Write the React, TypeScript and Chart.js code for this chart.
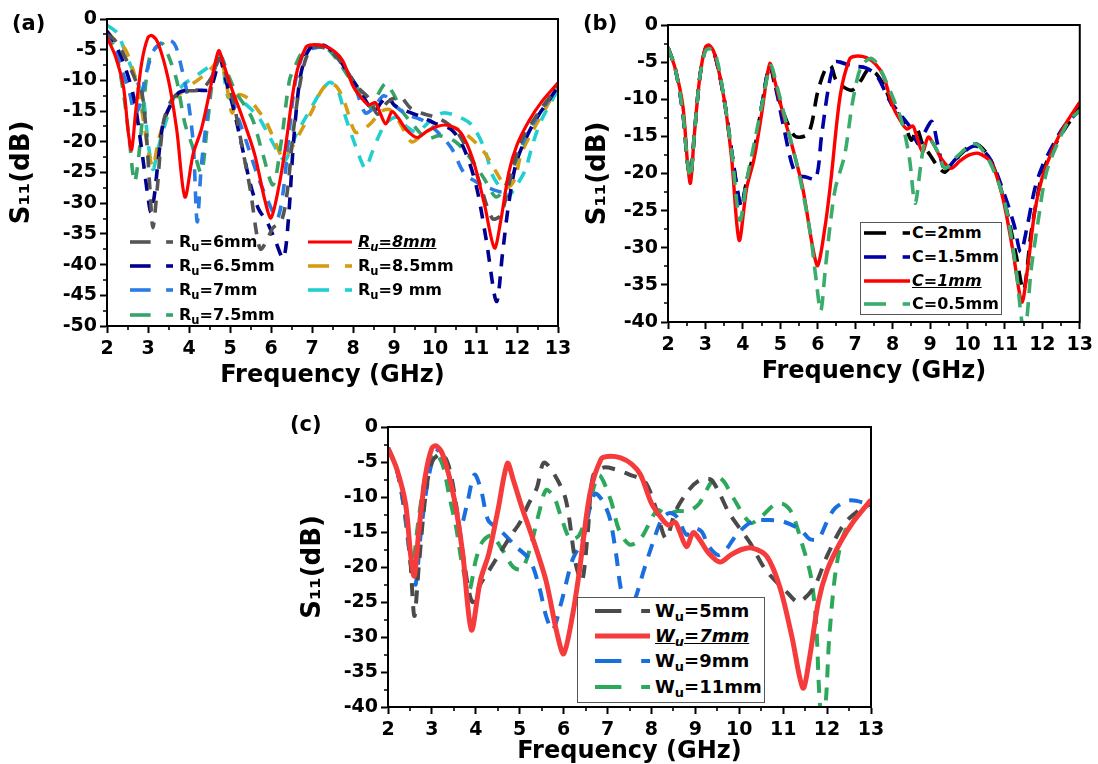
import React, { useEffect, useRef } from "react";
import { Chart, registerables } from "chart.js";
Chart.register(...registerables);

const FONT = '"DejaVu Sans", "Liberation Sans", Arial, sans-serif';

// ---------------- tick labels ----------------
const freqTicks = [2, 3, 4, 5, 6, 7, 8, 9, 10, 11, 12, 13];
const dbTicksA = [0, -5, -10, -15, -20, -25, -30, -35, -40, -45, -50];
const dbTicksBC = [0, -5, -10, -15, -20, -25, -30, -35, -40];

// ---------------- proposed design (red curve: Ru=8mm / C=1mm / Wu=7mm) ----------------
const refFreq = [2.0, 2.2, 2.4, 2.52, 2.6, 2.7, 2.85, 3.0, 3.1, 3.25, 3.5, 3.7, 3.9, 4.1, 4.3, 4.5, 4.72, 4.85, 5.05, 5.3, 5.6, 5.85, 6.0, 6.2, 6.35, 6.6, 6.85, 7.0, 7.3, 7.55, 7.75, 8.0, 8.2, 8.38, 8.54, 8.62, 8.8, 8.95, 9.1, 9.3, 9.56, 9.8, 10.05, 10.3, 10.63, 10.93, 11.2, 11.45, 11.6, 11.8, 12.0, 12.3, 12.6, 13.0];
const refS11 = [-3, -6, -11, -18.5, -21.3, -15, -7, -3, -2.7, -4, -10, -18, -29, -22, -18, -12, -5.2, -7.5, -11.5, -16, -22, -29.5, -32.4, -27, -21, -9.5, -4.6, -4.2, -4.4, -5.3, -6.8, -10.9, -12.8, -14, -13.6, -14.6, -17.1, -15.1, -16.1, -18, -19.3, -18.3, -17.5, -17.3, -18.5, -23, -30, -37.3, -33, -25, -20.5, -16.5, -13.5, -10.4];

// ---------------- panel (a): Ru sweep ----------------
const aFreq6 = [2.0, 2.2, 2.5, 2.7, 2.85, 2.95, 3.05, 3.12, 3.22, 3.37, 3.55, 3.75, 4.0, 4.3, 4.55, 4.75, 4.9, 5.1, 5.3, 5.5, 5.65, 5.75, 5.9, 6.05, 6.25, 6.4, 6.55, 6.75, 6.95, 7.2, 7.5, 7.8, 8.1, 8.4, 8.6, 8.85, 9.15, 9.4, 9.7, 10.0, 10.3, 10.6, 10.9, 11.15, 11.4, 11.6, 11.8, 12.1, 12.5, 13.0];
const aS11_6 = [-2.5, -3.5, -7, -10, -12, -18, -28, -34, -28, -17, -13.5, -12, -11.7, -11.5, -9.5, -6.5, -9, -14, -21, -28, -35, -37.5, -36, -34, -33, -28, -18, -9, -5, -4.5, -5.5, -8, -11, -13, -15.5, -13.5, -12.7, -14.5, -15.4, -16, -17, -19, -23, -28, -32.5, -32, -27, -20, -15.5, -11];

const aFreq65 = [2.0, 2.2, 2.45, 2.66, 2.8, 2.9, 3.0, 3.07, 3.15, 3.25, 3.37, 3.55, 3.75, 3.95, 4.25, 4.5, 4.62, 4.75, 4.9, 5.1, 5.3, 5.5, 5.7, 5.9, 6.1, 6.3, 6.42, 6.55, 6.7, 6.85, 7.0, 7.3, 7.6, 7.9, 8.2, 8.5, 8.7, 8.85, 9.0, 9.3, 9.7, 10.0, 10.4, 10.7, 11.0, 11.25, 11.5, 11.65, 11.8, 12.0, 12.4, 12.8, 13.0];
const aS11_65 = [-2, -4, -8, -13, -19, -24, -29, -31.5, -29, -23, -17, -14, -12, -11.6, -11.6, -11.5, -9.5, -6.5, -10, -15, -21, -27, -31, -33, -36, -39, -33, -20, -10, -6, -4.5, -4.3, -6, -9, -12, -15, -13.5, -12.5, -14, -15, -16, -17, -18, -21, -27, -36, -46, -38, -30, -23, -17, -13, -11];

const aFreq7 = [2.0, 2.2, 2.4, 2.55, 2.68, 2.8, 2.95, 3.15, 3.35, 3.55, 3.68, 3.82, 3.95, 4.1, 4.2, 4.3, 4.42, 4.55, 4.65, 4.77, 4.9, 5.1, 5.4, 5.7, 5.95, 6.15, 6.3, 6.45, 6.6, 6.8, 7.0, 7.3, 7.6, 7.9, 8.1, 8.3, 8.5, 8.75, 9.0, 9.3, 9.7, 10.0, 10.4, 10.7, 11.0, 11.3, 11.7, 12.0, 12.4, 12.8, 13.0];
const aS11_7 = [-2, -5, -9, -12, -15.5, -14, -9, -5, -3.8, -3.5, -4.5, -8, -12, -20, -33, -24, -17, -10, -7.5, -6, -9, -14, -20, -26, -30, -32.5, -28, -18, -10, -5.5, -4.8, -4.6, -6, -9, -12, -15.3, -14.5, -12.5, -14, -15.5, -16.5, -18, -21, -25, -26.5, -27.5, -28, -22, -17, -13, -11];

const aFreq75 = [2.0, 2.2, 2.4, 2.55, 2.67, 2.78, 2.92, 3.05, 3.2, 3.35, 3.5, 3.7, 3.9, 4.1, 4.3, 4.45, 4.6, 4.77, 4.95, 5.15, 5.35, 5.56, 5.8, 6.05, 6.25, 6.45, 6.6, 6.8, 7.0, 7.3, 7.6, 7.9, 8.2, 8.45, 8.6, 8.8, 8.97, 9.2, 9.5, 9.8, 10.1, 10.5, 10.9, 11.2, 11.5, 11.8, 12.1, 12.5, 13.0];
const aS11_75 = [-2.5, -5, -12, -20, -26.5, -22, -12, -6, -4.6, -4, -6, -10, -17, -21, -25, -17, -9, -6, -9, -12, -14, -16.5, -22, -27, -20, -10, -7.5, -5, -4.5, -4.5, -6.5, -9.5, -12, -14.5, -12.4, -10.5, -12, -15, -17.5, -19.5, -19, -20, -23, -26, -29, -26, -21, -15.5, -11];

const aFreq85 = [2.0, 2.2, 2.4, 2.5, 2.62, 2.75, 2.9, 3.02, 3.12, 3.25, 3.4, 3.6, 3.9, 4.3, 4.55, 4.76, 4.9, 5.05, 5.2, 5.45, 5.7, 5.9, 6.1, 6.3, 6.5, 6.75, 7.0, 7.2, 7.4, 7.6, 7.8, 8.05, 8.25, 8.46, 8.7, 8.9, 9.15, 9.43, 9.7, 10.0, 10.4, 10.8, 11.2, 11.5, 11.76, 11.95, 12.1, 12.4, 12.7, 13.0];
const aS11_85 = [-2, -3.5, -4.5, -5.7, -8, -11, -17, -22, -24, -20, -16.5, -13.5, -11.5, -9.5, -8, -6.5, -10, -15.3, -12.4, -13, -15, -17, -20, -22.6, -21, -18, -15, -12, -10.5, -11, -13.7, -18.4, -18, -16.8, -15, -14.8, -17, -20, -18.8, -17.6, -17.5, -19, -21.7, -25, -27.5, -26, -22, -18, -14.5, -11];

const aFreq9 = [2.0, 2.25, 2.45, 2.6, 2.75, 2.88, 3.0, 3.12, 3.25, 3.4, 3.66, 3.9, 4.27, 4.55, 4.78, 4.95, 5.17, 5.4, 5.7, 5.95, 6.2, 6.35, 6.6, 6.85, 7.02, 7.25, 7.45, 7.65, 7.8, 8.07, 8.3, 8.45, 8.6, 8.8, 9.07, 9.3, 9.55, 9.9, 10.2, 10.6, 10.9, 11.2, 11.4, 11.6, 11.8, 12.0, 12.2, 12.4, 12.6, 12.9, 13.0];
const aS11_9 = [-1, -2.3, -5.5, -8, -10.5, -12.5, -20, -24.5, -21, -17.5, -12.4, -10.5, -8.8, -7.5, -6.3, -12.7, -12.9, -14, -16, -19, -22, -23, -19, -16, -14, -11.5, -10.3, -12, -15.6, -20.8, -24.3, -22, -19.5, -17, -16, -17.5, -18.4, -16.5, -15.3, -16, -17.3, -21, -25.4, -27.5, -28.7, -27, -24.6, -20, -16.4, -12.7, -11.5];

// ---------------- panel (b): C sweep ----------------
const bFreq2 = [2.0, 2.2, 2.4, 2.52, 2.6, 2.7, 2.85, 3.0, 3.1, 3.25, 3.5, 3.7, 3.95, 4.1, 4.3, 4.5, 4.72, 4.85, 5.1, 5.4, 5.75, 6.0, 6.2, 6.35, 6.5, 6.9, 7.15, 7.35, 7.55, 7.8, 8.0, 8.3, 8.5, 8.65, 8.8, 9.0, 9.2, 9.4, 9.7, 10.2, 10.6, 11.0, 11.3, 11.5, 11.7, 12.0, 12.3, 12.6, 13.0];
const bS11_2 = [-3, -6, -12, -18.5, -20.5, -15, -7, -3.2, -3, -4, -10, -17, -24.3, -21, -17, -11, -5.5, -8, -12, -15, -14.6, -9, -6, -5.5, -7.5, -8.8, -7.5, -6, -6.5, -8.5, -11, -13, -15.5, -14, -16, -17.5, -19, -19.8, -18, -16, -18, -24, -31, -35.7, -28, -20, -16.5, -14, -11];

const bFreq15 = [2.0, 2.2, 2.4, 2.52, 2.6, 2.7, 2.85, 3.0, 3.1, 3.25, 3.5, 3.7, 3.95, 4.1, 4.3, 4.5, 4.72, 4.9, 5.1, 5.4, 5.7, 5.95, 6.1, 6.3, 6.46, 6.6, 6.9, 7.3, 7.6, 7.9, 8.2, 8.5, 8.68, 8.85, 9.05, 9.2, 9.4, 9.7, 10.2, 10.6, 11.0, 11.25, 11.42, 11.6, 11.8, 12.0, 12.3, 12.6, 13.0];
const bS11_15 = [-3, -6, -12, -18.5, -20.5, -15, -7, -3.2, -3, -4, -10, -17, -24.5, -21, -17, -11, -5.5, -9, -14, -20, -20.5, -20.7, -15, -8, -5, -5, -5.5, -5.8, -7, -10, -12, -14, -16, -14.5, -13, -16, -19.5, -18, -16.3, -18, -23, -27, -30.6, -27, -22, -19, -16, -13.5, -11.5];

const bFreq05 = [2.0, 2.2, 2.4, 2.52, 2.6, 2.7, 2.85, 3.0, 3.12, 3.3, 3.5, 3.7, 3.92, 4.1, 4.3, 4.5, 4.74, 4.9, 5.2, 5.5, 5.8, 5.95, 6.08, 6.2, 6.33, 6.47, 6.72, 6.93, 7.15, 7.4, 7.6, 7.96, 8.26, 8.45, 8.6, 8.75, 8.85, 9.0, 9.2, 9.4, 9.7, 10.2, 10.6, 11.0, 11.3, 11.47, 11.56, 11.7, 11.9, 12.1, 12.4, 12.7, 13.0];
const bS11_05 = [-3, -6, -12, -18.5, -20.5, -15, -7, -3.5, -3.2, -4.5, -10, -17, -26.3, -21, -16, -11, -5.5, -8, -14, -20, -28, -34, -38.5, -33, -27, -22, -17.5, -10.4, -5.7, -4.5, -5.3, -9.2, -13.3, -18, -24, -19, -16, -15.5, -17, -19.3, -17.8, -16, -18.5, -24, -33, -40.5, -40.5, -33, -26, -20, -16, -13, -11.5];

// ---------------- panel (c): Wu sweep ----------------
const cFreq5 = [2.0, 2.2, 2.4, 2.5, 2.6, 2.7, 2.85, 3.0, 3.22, 3.38, 3.55, 3.75, 3.92, 4.1, 4.3, 4.55, 4.8, 5.0, 5.2, 5.39, 5.55, 5.8, 6.05, 6.28, 6.42, 6.55, 6.67, 6.9, 7.15, 7.5, 7.85, 8.1, 8.33, 8.55, 8.85, 9.1, 9.35, 9.55, 9.77, 10.25, 10.6, 11.1, 11.35, 11.7, 12.0, 12.37, 12.7, 13.0];
const cS11_5 = [-3, -6, -12, -18, -27, -20, -10, -5, -3.8, -5.5, -11, -20, -25, -22.5, -20.5, -18, -15.5, -13.7, -11, -8.7, -5.1, -6.9, -10.4, -19.7, -22, -15, -7, -5.8, -6, -6.8, -7.8, -11.6, -15.9, -12, -9, -7.6, -7.5, -9.5, -12.3, -16.6, -20.4, -23.7, -25, -22.9, -18.4, -14, -12, -11];

const cFreq9 = [2.0, 2.2, 2.4, 2.55, 2.63, 2.75, 2.9, 3.05, 3.18, 3.35, 3.5, 3.65, 3.8, 3.97, 4.12, 4.28, 4.5, 4.66, 4.9, 5.23, 5.45, 5.6, 5.75, 5.95, 6.2, 6.44, 6.6, 6.72, 6.88, 7.05, 7.2, 7.3, 7.45, 7.6, 7.83, 8.06, 8.25, 8.42, 8.6, 8.8, 9.0, 9.15, 9.3, 9.52, 9.7, 9.95, 10.3, 10.68, 11.0, 11.4, 11.6, 11.8, 12.0, 12.18, 12.5, 12.87, 13.0];
const cS11_9 = [-3, -6, -13, -21, -22.5, -15, -8, -4, -3.2, -6, -10, -14.3, -11, -6.8, -9, -13.3, -14.5, -15.4, -17, -19, -23, -27, -29, -25, -19, -16, -11.5, -9.5, -10.5, -13, -18.4, -23, -26, -25, -20.4, -16, -13, -12.3, -13, -15.4, -14.5, -15, -17, -18.3, -17.5, -15.3, -13.5, -13.3, -13.5, -14.7, -16, -16, -13.5, -11.6, -10.5, -10.9, -11.5];

const cFreq11 = [2.0, 2.2, 2.35, 2.47, 2.55, 2.68, 2.85, 3.0, 3.1, 3.25, 3.4, 3.55, 3.7, 3.85, 4.0, 4.15, 4.35, 4.6, 4.85, 5.05, 5.25, 5.45, 5.6, 5.78, 5.95, 6.15, 6.35, 6.55, 6.8, 7.07, 7.26, 7.5, 7.75, 8.13, 8.35, 8.6, 8.85, 9.08, 9.3, 9.47, 9.65, 9.86, 10.25, 10.5, 10.8, 11.0, 11.2, 11.43, 11.63, 11.75, 11.85, 11.95, 12.05, 12.2, 12.4, 12.7, 13.0];
const cS11_11 = [-3, -6, -11, -17, -20.5, -14, -7, -4, -3.8, -5.5, -10, -14.3, -20, -23.3, -19, -16.4, -15.5, -17.5, -20, -20.3, -17, -12, -9, -10, -13, -16, -15.5, -12, -6.9, -10.4, -14.7, -16.8, -16, -11.9, -12.5, -12, -12, -11, -8.5, -7, -7.8, -10.1, -13.7, -12.8, -11.1, -11, -12.3, -16.7, -21.3, -28, -40.5, -40.5, -30, -20.4, -15, -12.6, -10.5];

// ---------------- types ----------------
type SeriesSpec = { label: string; f: number[]; v: number[]; color: string; width: number; dash: number[] };
type PanelSpec = {
  left: number; top: number; w: number; h: number;
  pad: { left: number; top: number; right: number; bottom: number };
  yW: number; xH: number; yMin: number; yTicks: number[];
  xTitlePad: number; yTitlePad: number;
  series: SeriesSpec[];
};

const DA = [12, 10];
const DB = [14, 9];
const DC = [13, 10];

const panelA: PanelSpec = {
  left: 0, top: 0, w: 580, h: 392,
  pad: { left: 0, top: 19, right: 22, bottom: 0 },
  yW: 107, xH: 66, yMin: -50, yTicks: dbTicksA, xTitlePad: 4, yTitlePad: 9,
  series: [
    { label: "Ru=8mm", f: refFreq, v: refS11, color: "#ff0000", width: 3.2, dash: [] },
    { label: "Ru=6mm", f: aFreq6, v: aS11_6, color: "#555555", width: 3.6, dash: DA },
    { label: "Ru=6.5mm", f: aFreq65, v: aS11_65, color: "#000090", width: 3.6, dash: DA },
    { label: "Ru=7mm", f: aFreq7, v: aS11_7, color: "#2a7be4", width: 3.6, dash: DA },
    { label: "Ru=7.5mm", f: aFreq75, v: aS11_75, color: "#35a466", width: 3.6, dash: DA },
    { label: "Ru=8.5mm", f: aFreq85, v: aS11_85, color: "#d39c12", width: 3.6, dash: DA },
    { label: "Ru=9 mm", f: aFreq9, v: aS11_9, color: "#22cfd0", width: 3.6, dash: DA },
  ],
};

const panelB: PanelSpec = {
  left: 580, top: 0, w: 518, h: 390,
  pad: { left: 0, top: 25, right: 13, bottom: 0 },
  yW: 88, xH: 68, yMin: -40, yTicks: dbTicksBC, xTitlePad: 6, yTitlePad: 5,
  series: [
    { label: "C=0.5mm", f: bFreq05, v: bS11_05, color: "#3aac6c", width: 3.6, dash: DB },
    { label: "C=1mm", f: refFreq, v: refS11, color: "#ff0000", width: 3.4, dash: [] },
    { label: "C=1.5mm", f: bFreq15, v: bS11_15, color: "#0000a8", width: 3.6, dash: DB },
    { label: "C=2mm", f: bFreq2, v: bS11_2, color: "#000000", width: 3.6, dash: DB },
  ],
};

const panelC: PanelSpec = {
  left: 290, top: 400, w: 600, h: 364,
  pad: { left: 0, top: 27, right: 19, bottom: 0 },
  yW: 98, xH: 57, yMin: -40, yTicks: dbTicksBC, xTitlePad: 0, yTitlePad: 10,
  series: [
    { label: "Wu=7mm", f: refFreq, v: refS11, color: "#f53b3b", width: 5, dash: [] },
    { label: "Wu=5mm", f: cFreq5, v: cS11_5, color: "#4a4a4a", width: 4, dash: DC },
    { label: "Wu=9mm", f: cFreq9, v: cS11_9, color: "#1a6fe0", width: 4, dash: DC },
    { label: "Wu=11mm", f: cFreq11, v: cS11_11, color: "#2ca85a", width: 4, dash: DC },
  ],
};

const framePlugin = {
  id: "frameMinor",
  afterDraw(chart: any) {
    const { ctx, chartArea: a, scales } = chart;
    const x = scales.x, y = scales.y;
    ctx.save();
    ctx.strokeStyle = "#000";
    ctx.lineWidth = 2;
    ctx.strokeRect(a.left, a.top, a.right - a.left, a.bottom - a.top);
    ctx.lineWidth = 1.6;
    ctx.beginPath();
    for (let v = x.min + 0.5; v < x.max; v += 1) {
      const px = Math.round(x.getPixelForValue(v));
      ctx.moveTo(px, a.bottom);
      ctx.lineTo(px, a.bottom + 4);
    }
    for (let v = y.min + 2.5; v < y.max; v += 5) {
      const py = Math.round(y.getPixelForValue(v));
      ctx.moveTo(a.left, py);
      ctx.lineTo(a.left - 4, py);
    }
    ctx.stroke();
    ctx.restore();
  },
};

function buildConfig(p: PanelSpec): any {
  const tickFont = { family: FONT, size: 19, weight: "bold" as const };
  const titleFont = { family: FONT, size: 24, weight: "bold" as const, lineHeight: 1 };
  const yTitleFont = { family: FONT, size: 26, weight: "bold" as const, lineHeight: 1 };
  return {
    type: "line",
    data: {
      datasets: p.series.map((s, i) => ({
        label: s.label,
        data: s.f.map((fx, k) => ({ x: fx, y: s.v[k] })),
        borderColor: s.color,
        backgroundColor: s.color,
        borderWidth: s.width,
        borderDash: s.dash,
        borderCapStyle: "butt",
        borderJoinStyle: "round",
        pointRadius: 0,
        tension: 0.3,
        fill: false,
        clip: 0,
        order: i,
      })),
    },
    options: {
      animation: false,
      responsive: false,
      maintainAspectRatio: false,
      devicePixelRatio: 1,
      layout: { padding: p.pad },
      plugins: { legend: { display: false }, tooltip: { enabled: false }, title: { display: false } },
      scales: {
        x: {
          type: "linear",
          min: 2,
          max: 13,
          afterBuildTicks: (s: any) => { s.ticks = freqTicks.map((v) => ({ value: v })); },
          afterFit: (s: any) => { s.height = p.xH; },
          ticks: { autoSkip: false, maxRotation: 0, font: tickFont, color: "#000", padding: 5 },
          grid: { drawOnChartArea: false, drawTicks: true, tickLength: 7, tickWidth: 2, tickColor: "#000" },
          border: { display: true, color: "#000", width: 2 },
          title: { display: true, text: "Frequency (GHz)", font: titleFont, color: "#000", padding: { top: 0, bottom: p.xTitlePad } },
        },
        y: {
          type: "linear",
          min: p.yMin,
          max: 0,
          afterBuildTicks: (s: any) => { s.ticks = p.yTicks.map((v) => ({ value: v })); },
          afterFit: (s: any) => { s.width = p.yW; },
          ticks: { autoSkip: false, font: tickFont, color: "#000", padding: 3 },
          grid: { drawOnChartArea: false, drawTicks: true, tickLength: 7, tickWidth: 2, tickColor: "#000" },
          border: { display: true, color: "#000", width: 2 },
          title: { display: true, text: "S\u2081\u2081(dB)", font: yTitleFont, color: "#000", padding: { top: p.yTitlePad, bottom: 0 } },
        },
      },
    },
    plugins: [framePlugin],
  };
}

function ChartPanel({ spec }: { spec: PanelSpec }) {
  const ref = useRef<HTMLCanvasElement | null>(null);
  useEffect(() => {
    if (!ref.current) return;
    const chart = new Chart(ref.current, buildConfig(spec));
    return () => chart.destroy();
  }, [spec]);
  return (
    <canvas
      ref={ref}
      width={spec.w}
      height={spec.h}
      style={{ position: "absolute", left: spec.left, top: spec.top, width: spec.w, height: spec.h }}
    />
  );
}

function Label({ text, emph }: { text: string; emph?: boolean }) {
  const m = text.match(/^([A-Za-z]+?)u(=.*)$/);
  const body = m ? (
    <>
      {m[1]}
      <span style={{ fontSize: "0.72em", position: "relative", top: "0.34em" }}>u</span>
      {m[2]}
    </>
  ) : (
    <>{text}</>
  );
  return emph ? <span style={{ fontStyle: "italic", textDecoration: "underline" }}>{body}</span> : body;
}

type LegendRow = { x: number; y: number; sw: number; gap: number; s: SeriesSpec; emph?: boolean };

function Row({ r, fs }: { r: LegendRow; fs: number }) {
  const solid = r.s.dash.length === 0;
  const lw = r.s.width;
  return (
    <div style={{ position: "absolute", left: r.x, top: r.y - 15, height: 30, display: "flex", alignItems: "center", whiteSpace: "nowrap" }}>
      <svg width={r.sw} height={10} style={{ display: "block" }}>
        {solid ? (
          <line x1={0} y1={5} x2={r.sw} y2={5} stroke={r.s.color} strokeWidth={lw} />
        ) : (
          <>
            <line x1={0} y1={5} x2={r.sw * 0.48} y2={5} stroke={r.s.color} strokeWidth={lw} />
            <line x1={r.sw * 0.84} y1={5} x2={r.sw} y2={5} stroke={r.s.color} strokeWidth={lw} />
          </>
        )}
      </svg>
      <span style={{ marginLeft: r.gap, fontFamily: FONT, fontWeight: "bold", fontSize: fs, color: "#000", lineHeight: 1 }}>
        <Label text={r.s.label} emph={r.emph} />
      </span>
    </div>
  );
}

const sA = panelA.series;
const legendA: LegendRow[] = [
  { x: 130, y: 242, sw: 43, gap: 6, s: sA[1] },
  { x: 130, y: 266, sw: 43, gap: 6, s: sA[2] },
  { x: 130, y: 290, sw: 43, gap: 6, s: sA[3] },
  { x: 130, y: 315, sw: 43, gap: 6, s: sA[4] },
  { x: 308, y: 242, sw: 44, gap: 6, s: sA[0], emph: true },
  { x: 308, y: 266, sw: 44, gap: 6, s: sA[5] },
  { x: 308, y: 290, sw: 44, gap: 6, s: sA[6] },
];
const sB = panelB.series;
const legendB: LegendRow[] = [
  { x: 864, y: 233, sw: 46, gap: 2, s: sB[3] },
  { x: 864, y: 257, sw: 46, gap: 2, s: sB[2] },
  { x: 864, y: 281, sw: 46, gap: 2, s: sB[1], emph: true },
  { x: 864, y: 304, sw: 46, gap: 2, s: sB[0] },
];
const sC = panelC.series;
const legendC: LegendRow[] = [
  { x: 595, y: 611, sw: 55, gap: 5, s: sC[1] },
  { x: 595, y: 636, sw: 55, gap: 5, s: sC[0], emph: true },
  { x: 595, y: 661, sw: 55, gap: 5, s: sC[2] },
  { x: 595, y: 687, sw: 55, gap: 5, s: sC[3] },
];

const panelLabel = (text: string, left: number, top: number) => (
  <div style={{ position: "absolute", left, top, fontFamily: FONT, fontWeight: "bold", fontSize: 21, lineHeight: 1, color: "#000" }}>{text}</div>
);

export default function App() {
  return (
    <div style={{ position: "absolute", left: 0, top: 0, width: 1098, height: 764, background: "#fff", overflow: "hidden" }}>
      <ChartPanel spec={panelA} />
      <ChartPanel spec={panelB} />
      <ChartPanel spec={panelC} />
      {panelLabel("(a)", 12, 13)}
      {panelLabel("(b)", 583, 13)}
      {panelLabel("(c)", 290, 414)}
      {legendA.map((r, i) => <Row key={"a" + i} r={r} fs={16} />)}
      <div style={{ position: "absolute", left: 860, top: 222, width: 142, height: 93, border: "1.5px solid #555", background: "#fff", boxSizing: "border-box" }} />
      {legendB.map((r, i) => <Row key={"b" + i} r={r} fs={16} />)}
      <div style={{ position: "absolute", left: 577, top: 597, width: 188, height: 106, border: "1.5px solid #555", background: "#fff", boxSizing: "border-box" }} />
      {legendC.map((r, i) => <Row key={"c" + i} r={r} fs={18} />)}
    </div>
  );
}
